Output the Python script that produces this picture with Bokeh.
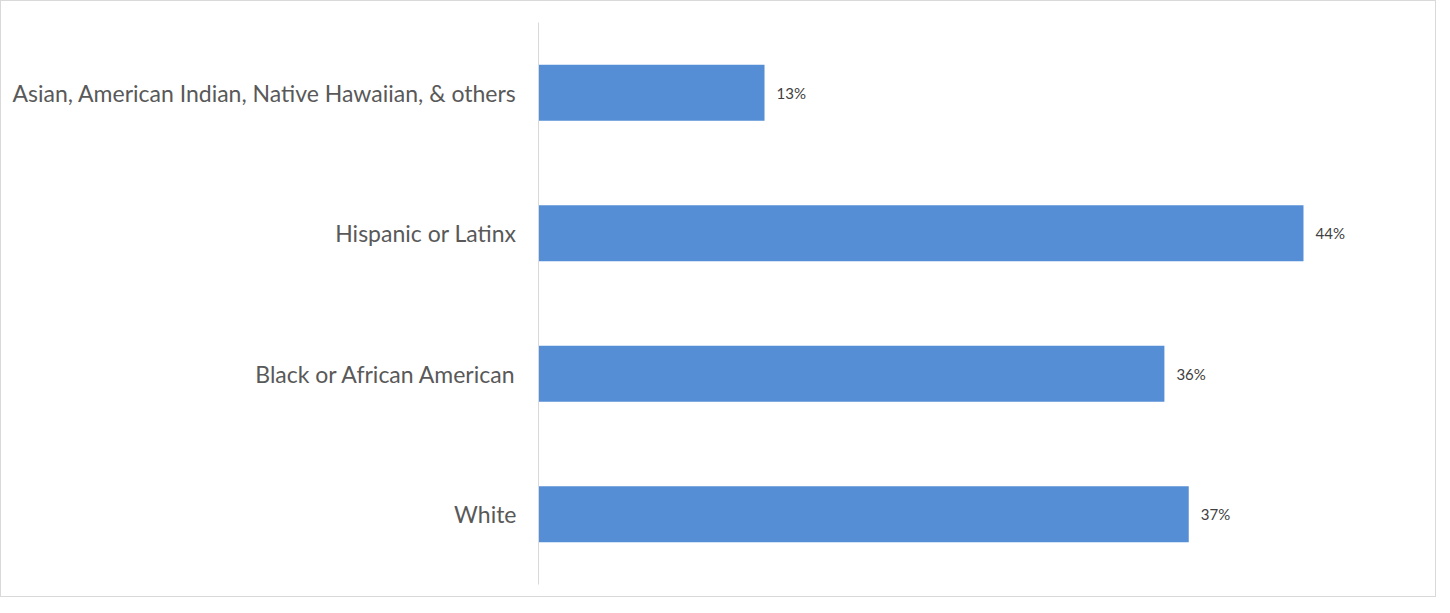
from bokeh.plotting import figure
from bokeh.models import Range1d, FactorRange, ColumnDataSource
from bokeh.core.properties import value
from bokeh.embed import file_html
from bokeh.resources import INLINE

categories = ["White", "Black or African American", "Hispanic or Latinx",
              "Asian, American Indian, Native Hawaiian, & others"]
shares = [37.4, 36, 44, 13]
labels = [f"{round(v)}%" for v in shares]

src = ColumnDataSource(dict(cat=categories, val=shares, lab=labels))

p = figure(width=1436, height=597, output_backend="svg", toolbar_location=None,
           y_range=FactorRange(*categories, range_padding=0),
           x_range=Range1d(0, 50.5),
           min_border_left=537, min_border_right=21, min_border_top=21, min_border_bottom=14)
p.styles = {"border": "1px solid #d9d9d9"}
p.outline_line_color = None
p.background_fill_color = "white"
p.border_fill_color = "white"
p.grid.visible = False
p.xaxis.visible = False

p.hbar(y="cat", right="val", left=0, height=0.4, source=src,
       fill_color="#558ed5", line_color=None)
p.text(x="val", y="cat", text="lab", source=src, x_offset=12,
       text_baseline="middle", text_align="left", text_font=value("Lato"),
       text_font_size="15px", text_color="#404040")

ya = p.yaxis[0]
ya.axis_line_color = "#d9d9d9"
ya.axis_line_width = 1
ya.major_tick_line_color = None
ya.minor_tick_line_color = None
ya.major_label_text_font = "Lato"
ya.major_label_text_font_size = "23px"
ya.major_label_text_color = "#595959"
ya.major_label_standoff = 16

open("out.html", "w").write(file_html(p, INLINE))
